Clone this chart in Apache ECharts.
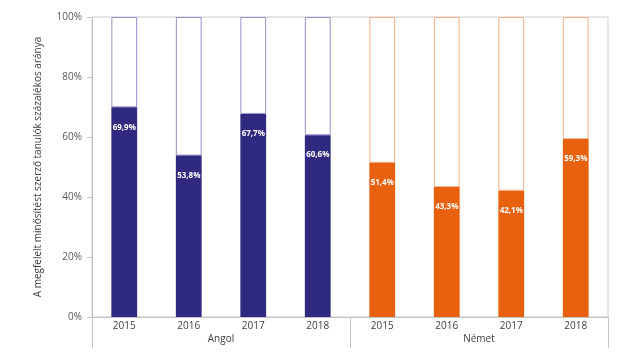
<!DOCTYPE html>
<html>
<head>
<meta charset="utf-8">
<script src="https://cdn.jsdelivr.net/npm/echarts@6/dist/echarts.min.js"></script>
<style>html,body{margin:0;padding:0;background:#fff}#c{width:640px;height:357px}</style>
</head>
<body>
<div id="c"></div>
<script>
var years = ['2015', '2016', '2017', '2018', '2015', '2016', '2017', '2018'];
var groups = ['Angol', 'Német'];
var angolValues = [69.9, 53.8, 67.7, 60.6];
var nemetValues = [51.4, 43.3, 42.1, 59.3];
var yTicks = [0, 20, 40, 60, 80, 100];
var yAxisTitle = 'A megfelelt minősítést szerző tanulók százalékos aránya';

var fillColors = ['#2f2a7f', '#e8610f'];
var edgeColors = ['#9491c9', '#f4b088'];

var values = angolValues.concat(nemetValues);
var filled = values.map(function (v, i) {
  var g = i < angolValues.length ? 0 : 1;
  return { value: v, itemStyle: { color: fillColors[g] } };
});
var rest = values.map(function (v, i) {
  var g = i < angolValues.length ? 0 : 1;
  return { value: +(100 - v).toFixed(1), itemStyle: { color: '#ffffff', borderColor: edgeColors[g], borderWidth: 1 } };
});

var font = 'Open Sans';
var chart = echarts.init(document.getElementById('c'), null, { renderer: 'canvas' });
chart.setOption({
  animation: false,
  backgroundColor: '#ffffff',
  grid: { left: 92, right: 32, top: 17, bottom: 40, show: true, borderColor: '#cccccc', borderWidth: 1, backgroundColor: 'transparent' },
  xAxis: [
    {
      type: 'category', data: years, position: 'bottom',
      axisLine: { show: true, lineStyle: { color: '#c4c4c4' } },
      axisTick: { show: false },
      axisLabel: { color: '#404040', fontSize: 10, fontFamily: font, margin: 4 }
    },
    {
      type: 'category', data: groups, position: 'bottom',
      axisLine: { show: false },
      axisTick: { show: true, length: 31, interval: 0, lineStyle: { color: '#c4c4c4' } },
      axisLabel: { color: '#404040', fontSize: 10, fontFamily: font, margin: 17 }
    }
  ],
  yAxis: {
    type: 'value', min: yTicks[0], max: yTicks[yTicks.length - 1], interval: 20,
    name: yAxisTitle, nameLocation: 'middle', nameGap: 49,
    nameTextStyle: { color: '#404040', fontSize: 10, fontFamily: font },
    axisLine: { show: true, lineStyle: { color: '#c4c4c4' } },
    axisTick: { show: true, length: 5, lineStyle: { color: '#c4c4c4' } },
    splitLine: { show: false },
    axisLabel: { color: '#595959', fontSize: 10, fontFamily: font, margin: 10, formatter: '{value}%' }
  },
  series: [
    {
      type: 'bar', stack: 'a', data: filled, barWidth: '40%', z: 3,
      label: {
        show: true, position: 'insideTop', distance: 16, color: '#ffffff', fontSize: 8, fontWeight: 'bold', fontFamily: font,
        formatter: function (p) { return p.value.toFixed(1).replace('.', ',') + '%'; }
      }
    },
    { type: 'bar', stack: 'a', data: rest, barWidth: '40%', z: 2 }
  ]
});
</script>
</body>
</html>
